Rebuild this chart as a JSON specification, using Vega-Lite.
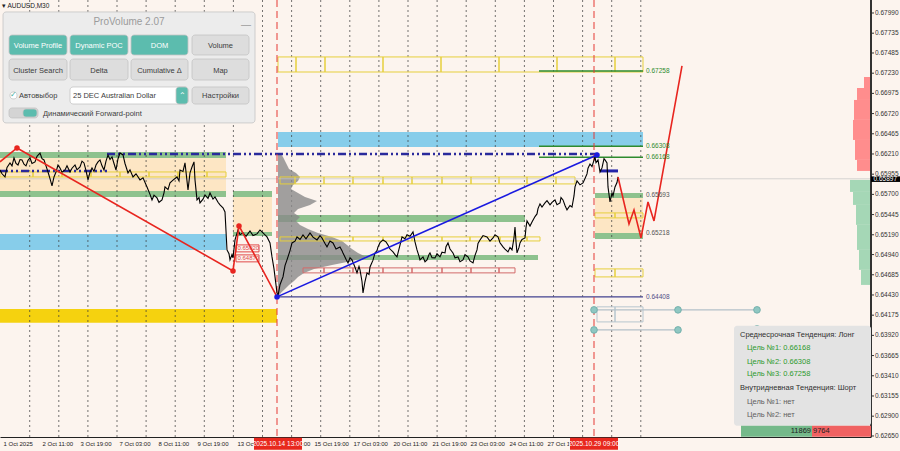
{
"$schema": "https://vega.github.io/schema/vega-lite/v6.json",
"width": 871, "height": 437, "autosize": {"type": "none"}, "padding": {"left": 0, "top": 0, "right": 29, "bottom": 14},
"background": "#fcf4ee",
"config": {"view": {"stroke": null}, "font": "Liberation Sans", "axis": {"labelOverlap": false, "labelBound": false, "labelFlush": false}},
"resolve": {"scale": {"fill": "independent", "stroke": "independent", "color": "independent"}},
"datasets": {
"yt": [{"p":0.6799},{"p":0.67735},{"p":0.67485},{"p":0.6723},{"p":0.66975},{"p":0.6672},{"p":0.66465},{"p":0.6621},{"p":0.65955},{"p":0.657},{"p":0.65445},{"p":0.6519},{"p":0.6494},{"p":0.64685},{"p":0.6443},{"p":0.64175},{"p":0.6392},{"p":0.63665},{"p":0.6341},{"p":0.63155},{"p":0.629},{"p":0.6265}],
"zones": [
{"x":0,"x2":226,"p":0.66236,"p2":0.66160,"k":"green"},
{"x":0,"x2":226,"p":0.66160,"p2":0.65744,"k":"tan"},
{"x":0,"x2":226,"p":0.65744,"p2":0.65668,"k":"green"},
{"x":233,"x2":272,"p":0.65744,"p2":0.65668,"k":"green"},
{"x":0,"x2":226,"p":0.65201,"p2":0.64999,"k":"sky"},
{"x":0,"x2":277,"p":0.64254,"p2":0.64078,"k":"gold"},
{"x":233,"x2":272,"p":0.65668,"p2":0.65226,"k":"tan"},
{"x":233,"x2":272,"p":0.65226,"p2":0.65176,"k":"green"},
{"x":278,"x2":643,"p":0.66488,"p2":0.66299,"k":"sky"},
{"x":278,"x2":525,"p":0.65441,"p2":0.65352,"k":"green"},
{"x":278,"x2":538,"p":0.64936,"p2":0.64873,"k":"green"},
{"x":595,"x2":643,"p":0.65718,"p2":0.65655,"k":"green"},
{"x":595,"x2":643,"p":0.65655,"p2":0.65214,"k":"tan"},
{"x":595,"x2":643,"p":0.65214,"p2":0.65138,"k":"green"}
],
"grid": [{"x":29.7},{"x":58.8},{"x":87.9},{"x":117},{"x":146.1},{"x":175.2},{"x":204.3},{"x":233.4},{"x":262.5},{"x":291.6},{"x":320.7},{"x":349.8},{"x":378.9},{"x":408},{"x":437.1},{"x":466.2},{"x":495.3},{"x":524.4},{"x":553.5},{"x":582.6},{"x":611.7},{"x":640.8}],
"vmarks": [{"x":277},{"x":594}],
"profile": [
{"p":0.66223,"v":280},{"p":0.66173,"v":283},{"p":0.66122,"v":285},{"p":0.66071,"v":287},{"p":0.66021,"v":289},{"p":0.65971,"v":296},{"p":0.65920,"v":300},{"p":0.65870,"v":298},{"p":0.65820,"v":293},{"p":0.65769,"v":291},{"p":0.65718,"v":298},{"p":0.65668,"v":305},{"p":0.65617,"v":317},{"p":0.65567,"v":310},{"p":0.65516,"v":298},{"p":0.65466,"v":294},{"p":0.65415,"v":300},{"p":0.65365,"v":296},{"p":0.65315,"v":300},{"p":0.65264,"v":308},{"p":0.65214,"v":318},{"p":0.65163,"v":332},{"p":0.65112,"v":342},{"p":0.65062,"v":347},{"p":0.65012,"v":352},{"p":0.64961,"v":358},{"p":0.64911,"v":366},{"p":0.64860,"v":352},{"p":0.64810,"v":332},{"p":0.64759,"v":314},{"p":0.64709,"v":304},{"p":0.64658,"v":298},{"p":0.64608,"v":294},{"p":0.64557,"v":289},{"p":0.64507,"v":285},{"p":0.64457,"v":281},{"p":0.64406,"v":278}
],
"boxes": [
{"x":0,"x2":33,"p":0.65983,"p2":0.65920,"k":"y"},{"x":33,"x2":62,"p":0.65983,"p2":0.65920,"k":"y"},{"x":62,"x2":91,"p":0.65983,"p2":0.65920,"k":"y"},{"x":91,"x2":120,"p":0.65983,"p2":0.65920,"k":"y"},{"x":120,"x2":149,"p":0.65983,"p2":0.65920,"k":"y"},{"x":149,"x2":178,"p":0.65983,"p2":0.65920,"k":"y"},{"x":178,"x2":207,"p":0.65983,"p2":0.65920,"k":"y"},{"x":207,"x2":226,"p":0.65983,"p2":0.65920,"k":"y"},
{"x":278,"x2":296,"p":0.67435,"p2":0.67245,"k":"y"},{"x":296,"x2":325,"p":0.67435,"p2":0.67245,"k":"y"},{"x":325,"x2":383,"p":0.67435,"p2":0.67245,"k":"y"},{"x":383,"x2":441,"p":0.67435,"p2":0.67245,"k":"y"},{"x":441,"x2":499,"p":0.67435,"p2":0.67245,"k":"y"},{"x":499,"x2":557,"p":0.67435,"p2":0.67245,"k":"y"},{"x":557,"x2":615,"p":0.67435,"p2":0.67245,"k":"y"},{"x":615,"x2":643,"p":0.67435,"p2":0.67245,"k":"y"},
{"x":280,"x2":295,"p":0.65920,"p2":0.65832,"k":"y"},{"x":295,"x2":324,"p":0.65920,"p2":0.65832,"k":"y"},{"x":324,"x2":353,"p":0.65920,"p2":0.65832,"k":"y"},{"x":353,"x2":383,"p":0.65920,"p2":0.65832,"k":"y"},{"x":383,"x2":412,"p":0.65920,"p2":0.65832,"k":"y"},{"x":412,"x2":442,"p":0.65920,"p2":0.65832,"k":"y"},{"x":442,"x2":471,"p":0.65920,"p2":0.65832,"k":"y"},{"x":471,"x2":499,"p":0.65920,"p2":0.65832,"k":"y"},{"x":499,"x2":527,"p":0.65920,"p2":0.65832,"k":"y"},{"x":527,"x2":556,"p":0.65920,"p2":0.65832,"k":"y"},{"x":556,"x2":575,"p":0.65920,"p2":0.65832,"k":"y"},
{"x":280,"x2":324,"p":0.65163,"p2":0.65112,"k":"y"},{"x":324,"x2":353,"p":0.65163,"p2":0.65112,"k":"y"},{"x":353,"x2":383,"p":0.65163,"p2":0.65112,"k":"y"},{"x":383,"x2":412,"p":0.65163,"p2":0.65112,"k":"y"},{"x":412,"x2":442,"p":0.65163,"p2":0.65112,"k":"y"},{"x":442,"x2":470,"p":0.65163,"p2":0.65112,"k":"y"},{"x":470,"x2":500,"p":0.65163,"p2":0.65112,"k":"y"},{"x":500,"x2":527,"p":0.65163,"p2":0.65112,"k":"y"},{"x":527,"x2":540,"p":0.65163,"p2":0.65112,"k":"y"},
{"x":595,"x2":615,"p":0.65466,"p2":0.65403,"k":"y"},{"x":615,"x2":643,"p":0.65466,"p2":0.65403,"k":"y"},
{"x":595,"x2":615,"p":0.64759,"p2":0.64658,"k":"y"},{"x":615,"x2":643,"p":0.64759,"p2":0.64658,"k":"y"},
{"x":303,"x2":324,"p":0.64772,"p2":0.64709,"k":"r"},{"x":324,"x2":353,"p":0.64772,"p2":0.64709,"k":"r"},{"x":353,"x2":383,"p":0.64772,"p2":0.64709,"k":"r"},{"x":383,"x2":412,"p":0.64772,"p2":0.64709,"k":"r"},{"x":412,"x2":442,"p":0.64772,"p2":0.64709,"k":"r"},{"x":442,"x2":471,"p":0.64772,"p2":0.64709,"k":"r"},{"x":471,"x2":499,"p":0.64772,"p2":0.64709,"k":"r"},{"x":499,"x2":515,"p":0.64772,"p2":0.64709,"k":"r"},
{"x":597,"x2":615,"p":0.64280,"p2":0.64090,"k":"g"},{"x":615,"x2":643,"p":0.64280,"p2":0.64090,"k":"g"},
{"x":236,"x2":259,"p":0.65062,"p2":0.64974,"k":"rl"},{"x":236,"x2":259,"p":0.64936,"p2":0.64848,"k":"rl"}
],
"lv": [
{"x":539,"x2":643,"p":0.67258,"k":"green"},{"x":539,"x2":643,"p":0.66308,"k":"green"},{"x":539,"x2":643,"p":0.66168,"k":"green"},
{"x":277,"x2":643,"p":0.64406,"k":"navy"},
{"x":594,"x2":757,"p":0.64242,"k":"conn"},{"x":594,"x2":678,"p":0.63989,"k":"conn"}
],
"cur": [{"x":0,"x2":871,"p":0.65897}],
"dashdot": [{"x":0,"x2":107,"p":0.65996},{"x":107,"x2":600,"p":0.66211}],
"navyshort": [{"x":600,"x2":618,"p":0.65996}],
"price": [
{"x":0,"p":0.66008},{"x":2,"p":0.65960},{"x":5,"p":0.65920},{"x":7,"p":0.66040},{"x":10,"p":0.66097},{"x":12,"p":0.66060},{"x":14,"p":0.66160},{"x":16,"p":0.66090},{"x":18,"p":0.66071},{"x":20,"p":0.66140},{"x":22,"p":0.66135},{"x":24,"p":0.66080},{"x":26,"p":0.66059},{"x":28,"p":0.66130},{"x":30,"p":0.66160},{"x":32,"p":0.66090},{"x":35,"p":0.66110},{"x":37,"p":0.66180},{"x":40,"p":0.66223},{"x":42,"p":0.66150},{"x":44,"p":0.66135},{"x":46,"p":0.66060},{"x":48,"p":0.65983},{"x":50,"p":0.65900},{"x":52,"p":0.65807},{"x":54,"p":0.65920},{"x":56,"p":0.65983},{"x":58,"p":0.66070},{"x":60,"p":0.66034},{"x":62,"p":0.65980},{"x":65,"p":0.66008},{"x":67,"p":0.66060},{"x":70,"p":0.65983},{"x":72,"p":0.66030},{"x":75,"p":0.66071},{"x":77,"p":0.66010},{"x":80,"p":0.66046},{"x":82,"p":0.66120},{"x":84,"p":0.66097},{"x":86,"p":0.66000},{"x":88,"p":0.65883},{"x":90,"p":0.65980},{"x":92,"p":0.66034},{"x":94,"p":0.65990},{"x":96,"p":0.66071},{"x":98,"p":0.66110},{"x":100,"p":0.66135},{"x":102,"p":0.66060},{"x":104,"p":0.66008},{"x":106,"p":0.66120},{"x":108,"p":0.66198},{"x":110,"p":0.66140},{"x":112,"p":0.66173},{"x":114,"p":0.66090},{"x":116,"p":0.66008},{"x":118,"p":0.66150},{"x":120,"p":0.66223},{"x":123,"p":0.66198},{"x":125,"p":0.66090},{"x":128,"p":0.65971},{"x":130,"p":0.66010},{"x":133,"p":0.65920},{"x":136,"p":0.65960},{"x":140,"p":0.65883},{"x":143,"p":0.65910},{"x":147,"p":0.65794},{"x":150,"p":0.65700},{"x":152,"p":0.65630},{"x":154,"p":0.65690},{"x":157,"p":0.65655},{"x":159,"p":0.65600},{"x":162,"p":0.65630},{"x":164,"p":0.65720},{"x":165,"p":0.65794},{"x":168,"p":0.65760},{"x":170,"p":0.65845},{"x":173,"p":0.65880},{"x":177,"p":0.65920},{"x":179,"p":0.65870},{"x":180,"p":0.66008},{"x":183,"p":0.65990},{"x":185,"p":0.66097},{"x":188,"p":0.65756},{"x":190,"p":0.65971},{"x":192,"p":0.66046},{"x":194,"p":0.66110},{"x":195,"p":0.65883},{"x":197,"p":0.65630},{"x":199,"p":0.65660},{"x":200,"p":0.65592},{"x":203,"p":0.65640},{"x":205,"p":0.65693},{"x":208,"p":0.65650},{"x":210,"p":0.65718},{"x":213,"p":0.65640},{"x":215,"p":0.65668},{"x":218,"p":0.65600},{"x":220,"p":0.65567},{"x":223,"p":0.65530},{"x":225,"p":0.65478},{"x":227,"p":0.64999},{"x":229,"p":0.64950},{"x":230,"p":0.64873},{"x":232,"p":0.64940},{"x":233,"p":0.64898},{"x":235,"p":0.65125},{"x":238,"p":0.65252},{"x":240,"p":0.65190},{"x":243,"p":0.65214},{"x":246,"p":0.65170},{"x":250,"p":0.65239},{"x":253,"p":0.65180},{"x":257,"p":0.65201},{"x":260,"p":0.65250},{"x":262,"p":0.65226},{"x":265,"p":0.65190},{"x":267,"p":0.65163},{"x":270,"p":0.65087},{"x":272,"p":0.64911},{"x":274,"p":0.64760},{"x":275,"p":0.64658},{"x":277,"p":0.64457},{"x":278,"p":0.64419},{"x":280,"p":0.64560},{"x":283,"p":0.64658},{"x":285,"p":0.64800},{"x":287,"p":0.64873},{"x":290,"p":0.64990},{"x":292,"p":0.65087},{"x":295,"p":0.65110},{"x":297,"p":0.65163},{"x":300,"p":0.65130},{"x":303,"p":0.65189},{"x":306,"p":0.65140},{"x":310,"p":0.65214},{"x":313,"p":0.65160},{"x":317,"p":0.65125},{"x":320,"p":0.65180},{"x":322,"p":0.65150},{"x":325,"p":0.65080},{"x":327,"p":0.65037},{"x":330,"p":0.65110},{"x":333,"p":0.65087},{"x":336,"p":0.65010},{"x":340,"p":0.65037},{"x":342,"p":0.64990},{"x":343,"p":0.64961},{"x":346,"p":0.64880},{"x":348,"p":0.64835},{"x":350,"p":0.64900},{"x":352,"p":0.64873},{"x":355,"p":0.64780},{"x":357,"p":0.64709},{"x":359,"p":0.64790},{"x":360,"p":0.64747},{"x":362,"p":0.64600},{"x":363,"p":0.64457},{"x":365,"p":0.64600},{"x":367,"p":0.64709},{"x":369,"p":0.64690},{"x":370,"p":0.64784},{"x":373,"p":0.64870},{"x":375,"p":0.64961},{"x":377,"p":0.64990},{"x":378,"p":0.65037},{"x":380,"p":0.65090},{"x":383,"p":0.65125},{"x":386,"p":0.65100},{"x":388,"p":0.65062},{"x":390,"p":0.65010},{"x":393,"p":0.64974},{"x":395,"p":0.64940},{"x":397,"p":0.64911},{"x":400,"p":0.65060},{"x":402,"p":0.65163},{"x":405,"p":0.65140},{"x":407,"p":0.65189},{"x":410,"p":0.65170},{"x":413,"p":0.65226},{"x":415,"p":0.65100},{"x":417,"p":0.64999},{"x":419,"p":0.64920},{"x":420,"p":0.64873},{"x":423,"p":0.64911},{"x":425,"p":0.64850},{"x":427,"p":0.64873},{"x":429,"p":0.64940},{"x":430,"p":0.64961},{"x":432,"p":0.64900},{"x":435,"p":0.64898},{"x":437,"p":0.64950},{"x":440,"p":0.64911},{"x":442,"p":0.64970},{"x":445,"p":0.64961},{"x":446,"p":0.65040},{"x":448,"p":0.65087},{"x":450,"p":0.65010},{"x":453,"p":0.64961},{"x":455,"p":0.64900},{"x":458,"p":0.64911},{"x":460,"p":0.64850},{"x":463,"p":0.64873},{"x":465,"p":0.64940},{"x":468,"p":0.64911},{"x":470,"p":0.64860},{"x":473,"p":0.64835},{"x":475,"p":0.64930},{"x":477,"p":0.64999},{"x":478,"p":0.65080},{"x":480,"p":0.65125},{"x":483,"p":0.65180},{"x":487,"p":0.65163},{"x":490,"p":0.65110},{"x":493,"p":0.65150},{"x":495,"p":0.65190},{"x":498,"p":0.65163},{"x":500,"p":0.65090},{"x":503,"p":0.65037},{"x":505,"p":0.65010},{"x":508,"p":0.64974},{"x":510,"p":0.65030},{"x":512,"p":0.64999},{"x":514,"p":0.65150},{"x":515,"p":0.65289},{"x":516,"p":0.65100},{"x":517,"p":0.64961},{"x":519,"p":0.65030},{"x":520,"p":0.65087},{"x":522,"p":0.65130},{"x":525,"p":0.65150},{"x":526,"p":0.65280},{"x":527,"p":0.65365},{"x":530,"p":0.65300},{"x":532,"p":0.65352},{"x":535,"p":0.65420},{"x":537,"p":0.65453},{"x":538,"p":0.65520},{"x":540,"p":0.65580},{"x":542,"p":0.65540},{"x":545,"p":0.65592},{"x":547,"p":0.65620},{"x":550,"p":0.65567},{"x":552,"p":0.65600},{"x":555,"p":0.65630},{"x":557,"p":0.65570},{"x":560,"p":0.65592},{"x":561,"p":0.65660},{"x":563,"p":0.65630},{"x":565,"p":0.65560},{"x":567,"p":0.65504},{"x":570,"p":0.65560},{"x":572,"p":0.65541},{"x":574,"p":0.65680},{"x":575,"p":0.65794},{"x":577,"p":0.65870},{"x":580,"p":0.65820},{"x":583,"p":0.65845},{"x":585,"p":0.65900},{"x":587,"p":0.65958},{"x":588,"p":0.66030},{"x":590,"p":0.66084},{"x":592,"p":0.66050},{"x":595,"p":0.66173},{"x":596,"p":0.66100},{"x":598,"p":0.66135},{"x":599,"p":0.66060},{"x":600,"p":0.65983},{"x":602,"p":0.66034},{"x":604,"p":0.66150},{"x":605,"p":0.66135},{"x":607,"p":0.66097},{"x":608,"p":0.65794},{"x":609,"p":0.65700},{"x":610,"p":0.65605},{"x":612,"p":0.65718},{"x":613,"p":0.65680},{"x":615,"p":0.65794},{"x":617,"p":0.65850},{"x":618,"p":0.65920}
],
"zig": [{"x":0,"p":0.66110},{"x":17,"p":0.66286},{"x":233,"p":0.64734},{"x":239,"p":0.65302},{"x":277,"p":0.64406}],
"blue": [{"x":277,"p":0.64406},{"x":597,"p":0.66198}],
"fc": [{"x":618,"p":0.65920},{"x":629,"p":0.65327},{"x":634,"p":0.65504},{"x":641,"p":0.65150},{"x":648,"p":0.65605},{"x":654,"p":0.65365},{"x":682,"p":0.67321}],
"dots": [{"x":17,"p":0.66286,"k":"r"},{"x":233,"p":0.64734,"k":"r"},{"x":239,"p":0.65302,"k":"r"},{"x":277,"p":0.64406,"k":"b"},{"x":597,"p":0.66198,"k":"b"}],
"teal": [{"x":594,"p":0.64242},{"x":594,"p":0.63989},{"x":678,"p":0.64242},{"x":678,"p":0.63989},{"x":757,"p":0.64242},{"x":757,"p":0.64002}],
"dom": [
{"x":864,"x2":871,"p":0.67182,"p2":0.67043,"k":"r"},{"x":857,"x2":871,"p":0.67043,"p2":0.66892,"k":"r"},{"x":854,"x2":871,"p":0.66892,"p2":0.66640,"k":"r"},{"x":853,"x2":871,"p":0.66640,"p2":0.66387,"k":"r"},{"x":855,"x2":871,"p":0.66387,"p2":0.66135,"k":"r"},{"x":857,"x2":871,"p":0.66135,"p2":0.65996,"k":"r"},
{"x":850,"x2":871,"p":0.65883,"p2":0.65731,"k":"g"},{"x":853,"x2":871,"p":0.65731,"p2":0.65567,"k":"g"},{"x":856,"x2":871,"p":0.65567,"p2":0.65315,"k":"g"},{"x":857,"x2":871,"p":0.65315,"p2":0.64999,"k":"g"},{"x":859,"x2":871,"p":0.64999,"p2":0.64747,"k":"g"},{"x":861,"x2":871,"p":0.64747,"p2":0.64557,"k":"g"}
],
"lvltxt": [
{"x":646,"p":0.67258,"label":"0.67258","k":"g"},{"x":646,"p":0.66308,"label":"0.66308","k":"g"},{"x":646,"p":0.66168,"label":"0.66168","k":"g"},{"x":646,"p":0.65693,"label":"0.65693","k":"d"},{"x":646,"p":0.65218,"label":"0.65218","k":"d"},{"x":646,"p":0.64408,"label":"0.64408","k":"b"}
],
"redlab": [{"x":237.5,"p":0.65018,"label":"0.65020"},{"x":237.5,"p":0.64892,"label":"0.64870"}],
"infobox": [{"x":734,"x2":871,"p":0.64040,"p2":0.62778}],
"bars": [{"x":741,"x2":812,"p":0.62778,"p2":0.62639,"k":"g"},{"x":812,"x2":871,"p":0.62778,"p2":0.62639,"k":"r"}],
"infotxt": [
{"x":740,"p":0.63926,"label":"Среднесрочная Тенденция: Лонг","k":"h"},
{"x":747,"p":0.63762,"label":"Цель №1: 0.66168","k":"g"},
{"x":747,"p":0.63586,"label":"Цель №2: 0.66308","k":"g"},
{"x":747,"p":0.63434,"label":"Цель №3: 0.67258","k":"g"},
{"x":740,"p":0.63257,"label":"Внутридневная Тенденция: Шорт","k":"h"},
{"x":747,"p":0.63081,"label":"Цель №1: нет","k":"n"},
{"x":747,"p":0.62917,"label":"Цель №2: нет","k":"n"}
],
"barnum": [{"x":811,"p":0.62710,"label":"11869","a":"r"},{"x":813,"p":0.62710,"label":"9764","a":"l"}],
"pricebox": [{"x":871,"x2":900,"p":0.65927,"p2":0.65857}],
"pricetxt": [{"x":873.5,"p":0.65892,"label":"0.65897"}],
"axbox": [{"x":254,"x2":302,"p":0.62626,"p2":0.62475},{"x":570,"x2":618,"p":0.62626,"p2":0.62475}],
"axtxt": [{"x":278,"p":0.62551,"label":"2025.10.14 13:00"},{"x":594,"p":0.62551,"label":"2025.10.29 09:00"}],
"ui": [
{"x":3,"x2":255,"p":0.68003,"p2":0.66602,"k":"panel"},
{"x":9,"x2":67,"p":0.67712,"p2":0.67460,"k":"teal"},
{"x":70,"x2":128,"p":0.67712,"p2":0.67460,"k":"teal"},
{"x":131,"x2":188,"p":0.67712,"p2":0.67460,"k":"teal"},
{"x":192,"x2":249,"p":0.67712,"p2":0.67460,"k":"light"},
{"x":9,"x2":67,"p":0.67409,"p2":0.67144,"k":"light"},
{"x":70,"x2":128,"p":0.67409,"p2":0.67144,"k":"light"},
{"x":131,"x2":188,"p":0.67409,"p2":0.67144,"k":"light"},
{"x":192,"x2":249,"p":0.67409,"p2":0.67144,"k":"light"},
{"x":70,"x2":188,"p":0.67056,"p2":0.66841,"k":"white"},
{"x":176,"x2":188,"p":0.67056,"p2":0.66841,"k":"teal"},
{"x":192,"x2":249,"p":0.67056,"p2":0.66841,"k":"light"},
{"x":10,"x2":17,"p":0.66993,"p2":0.66905,"k":"white"},
{"x":9,"x2":38,"p":0.66791,"p2":0.66665,"k":"tog"},
{"x":23,"x2":37,"p":0.66778,"p2":0.66677,"k":"teal"}
],
"uititle": [{"x":129,"p":0.67876,"label":"ProVolume 2.07"},{"x":246,"p":0.67839,"label":"—"}],
"uictr": [
{"x":38,"p":0.67574,"label":"Volume Profile","k":"w"},
{"x":99,"p":0.67574,"label":"Dynamic POC","k":"w"},
{"x":159.5,"p":0.67574,"label":"DOM","k":"w"},
{"x":220.5,"p":0.67574,"label":"Volume","k":"d"},
{"x":38,"p":0.67258,"label":"Cluster Search","k":"d"},
{"x":99,"p":0.67258,"label":"Delta","k":"d"},
{"x":159.5,"p":0.67258,"label":"Cumulative Δ","k":"d"},
{"x":220.5,"p":0.67258,"label":"Map","k":"d"},
{"x":220.5,"p":0.66943,"label":"Настройки","k":"d"},
{"x":13.5,"p":0.66955,"label":"✓","k":"c"},
{"x":182,"p":0.66943,"label":"⌃","k":"w"}
],
"uileft": [
{"x":19,"p":0.66943,"label":"Автовыбор"},
{"x":73,"p":0.66943,"label":"25 DEC Australian Dollar"},
{"x":43,"p":0.66715,"label":"Динамический Forward-point"}
],
"sym": [{"x":2,"p":0.68072,"label":"▾ AUDUSD,M30"}]
},
"layer": [
{"data":{"name":"zones"},"mark":{"type":"rect"},
 "encoding":{
  "x":{"field":"x","type":"quantitative","scale":{"domain":[0,871],"nice":false,"zero":false},
   "axis":{"values":[3,42,80,119,158,197,237,276,314,353,393,432,470,509,547],
    "labelExpr":"['1 Oct 2025','2 Oct 11:00','3 Oct 19:00','7 Oct 03:00','8 Oct 11:00','9 Oct 19:00','13 Oct 03:00','14 Oct 11:00','15 Oct 19:00','17 Oct 03:00','20 Oct 11:00','21 Oct 19:00','23 Oct 03:00','24 Oct 11:00','27 Oct 11:00'][indexof([3,42,80,119,158,197,237,276,314,353,393,432,470,509,547], datum.value)]",
    "labelAlign":"left","ticks":false,"labelPadding":3,"labelFontSize":6,"labelFont":"Liberation Sans","labelColor":"#222","domainColor":"#222","domainWidth":1,"title":null,"grid":false,"labelOverlap":false,"labelFlush":false,"labelBound":false}},
  "x2":{"field":"x2"},
  "y":{"field":"p","type":"quantitative","scale":{"domain":[0.62637,0.68154],"nice":false,"zero":false},"axis":null},
  "y2":{"field":"p2"},
  "fill":{"field":"k","type":"nominal","legend":null,"scale":{"domain":["green","tan","sky","gold"],"range":["#8ec28e","#fde6c4","#87cdea","#f5d20f"]}}
 }},
{"data":{"name":"grid"},"mark":{"type":"rule","stroke":"#3a3a3a","strokeDash":[2,3],"strokeWidth":0.7},
 "encoding":{"x":{"field":"x","type":"quantitative","scale":{"domain":[0,871],"nice":false,"zero":false}}}},
{"data":{"name":"profile"},"mark":{"type":"area","orient":"horizontal","color":"#8a8a8a","opacity":0.8},
 "encoding":{
  "y":{"field":"p","type":"quantitative","scale":{"domain":[0.62637,0.68154],"nice":false,"zero":false},"axis":null},
  "x":{"field":"v","type":"quantitative","scale":{"domain":[0,871],"nice":false,"zero":false}},
  "x2":{"datum":278}}},
{"data":{"name":"boxes"},"mark":{"type":"rect","fill":"#ffffff","fillOpacity":0,"strokeWidth":1},
 "encoding":{
  "x":{"field":"x","type":"quantitative","scale":{"domain":[0,871],"nice":false,"zero":false}},"x2":{"field":"x2"},
  "y":{"field":"p","type":"quantitative","scale":{"domain":[0.62637,0.68154],"nice":false,"zero":false},"axis":null},"y2":{"field":"p2"},
  "stroke":{"field":"k","type":"nominal","legend":null,"scale":{"domain":["y","r","g","rl"],"range":["#e6cf3c","#d36b6b","#b6c6cf","#e04848"]}}}},
{"data":{"name":"cur"},"mark":{"type":"rule","stroke":"#c4c4c4","strokeWidth":0.7},
 "encoding":{
  "x":{"field":"x","type":"quantitative","scale":{"domain":[0,871],"nice":false,"zero":false}},"x2":{"field":"x2"},
  "y":{"field":"p","type":"quantitative","scale":{"domain":[0.62637,0.68154],"nice":false,"zero":false},"axis":null}}},
{"data":{"name":"lv"},"mark":{"type":"rule","strokeWidth":1.4},
 "encoding":{
  "x":{"field":"x","type":"quantitative","scale":{"domain":[0,871],"nice":false,"zero":false}},"x2":{"field":"x2"},
  "y":{"field":"p","type":"quantitative","scale":{"domain":[0.62637,0.68154],"nice":false,"zero":false},"axis":null},
  "stroke":{"field":"k","type":"nominal","legend":null,"scale":{"domain":["green","navy","conn"],"range":["#2e8b2e","#42428f","#b3c0c8"]}}}},
{"data":{"name":"dashdot"},"mark":{"type":"rule","stroke":"#2a2a9c","strokeWidth":2.5,"strokeDash":[8,3,2,3,2,3]},
 "encoding":{
  "x":{"field":"x","type":"quantitative","scale":{"domain":[0,871],"nice":false,"zero":false}},"x2":{"field":"x2"},
  "y":{"field":"p","type":"quantitative","scale":{"domain":[0.62637,0.68154],"nice":false,"zero":false},"axis":null}}},
{"data":{"name":"navyshort"},"mark":{"type":"rule","stroke":"#2424a8","strokeWidth":3},
 "encoding":{
  "x":{"field":"x","type":"quantitative","scale":{"domain":[0,871],"nice":false,"zero":false}},"x2":{"field":"x2"},
  "y":{"field":"p","type":"quantitative","scale":{"domain":[0.62637,0.68154],"nice":false,"zero":false},"axis":null}}},
{"data":{"name":"vmarks"},"mark":{"type":"rule","stroke":"#e53935","strokeDash":[7,4],"strokeWidth":1},
 "encoding":{"x":{"field":"x","type":"quantitative","scale":{"domain":[0,871],"nice":false,"zero":false}}}},
{"data":{"name":"price"},"mark":{"type":"line","color":"#000000","strokeWidth":1.1},
 "encoding":{
  "x":{"field":"x","type":"quantitative","scale":{"domain":[0,871],"nice":false,"zero":false}},
  "y":{"field":"p","type":"quantitative","scale":{"domain":[0.62637,0.68154],"nice":false,"zero":false},"axis":null}}},
{"data":{"name":"zig"},"mark":{"type":"line","color":"#e8251f","strokeWidth":1.6},
 "encoding":{
  "x":{"field":"x","type":"quantitative","scale":{"domain":[0,871],"nice":false,"zero":false}},
  "y":{"field":"p","type":"quantitative","scale":{"domain":[0.62637,0.68154],"nice":false,"zero":false},"axis":null}}},
{"data":{"name":"blue"},"mark":{"type":"line","color":"#1a1ae0","strokeWidth":1.6},
 "encoding":{
  "x":{"field":"x","type":"quantitative","scale":{"domain":[0,871],"nice":false,"zero":false}},
  "y":{"field":"p","type":"quantitative","scale":{"domain":[0.62637,0.68154],"nice":false,"zero":false},"axis":null}}},
{"data":{"name":"fc"},"mark":{"type":"line","color":"#e8251f","strokeWidth":1.6},
 "encoding":{
  "x":{"field":"x","type":"quantitative","scale":{"domain":[0,871],"nice":false,"zero":false}},
  "y":{"field":"p","type":"quantitative","scale":{"domain":[0.62637,0.68154],"nice":false,"zero":false},"axis":null}}},
{"data":{"name":"dots"},"mark":{"type":"point","filled":true,"size":30,"opacity":1},
 "encoding":{
  "x":{"field":"x","type":"quantitative","scale":{"domain":[0,871],"nice":false,"zero":false}},
  "y":{"field":"p","type":"quantitative","scale":{"domain":[0.62637,0.68154],"nice":false,"zero":false},"axis":null},
  "fill":{"field":"k","type":"nominal","legend":null,"scale":{"domain":["r","b"],"range":["#e8251f","#1a1ae0"]}}}},
{"data":{"name":"dom"},"mark":{"type":"rect"},
 "encoding":{
  "x":{"field":"x","type":"quantitative","scale":{"domain":[0,871],"nice":false,"zero":false}},"x2":{"field":"x2"},
  "y":{"field":"p","type":"quantitative","scale":{"domain":[0.62637,0.68154],"nice":false,"zero":false},"axis":null},"y2":{"field":"p2"},
  "fill":{"field":"k","type":"nominal","legend":null,"scale":{"domain":["r","g"],"range":["#ff8d8d","#a5d7b6"]}}}},
{"data":{"name":"yt"},"mark":{"type":"rule","stroke":"#333333","strokeWidth":1},
 "encoding":{
  "x":{"datum":871,"type":"quantitative","scale":{"domain":[0,871],"nice":false,"zero":false}},"x2":{"datum":874},
  "y":{"field":"p","type":"quantitative","scale":{"domain":[0.62637,0.68154],"nice":false,"zero":false},"axis":null}}},
{"data":{"name":"yt"},"mark":{"type":"rule","stroke":"#333333","strokeWidth":1},
 "encoding":{
  "x":{"datum":871,"type":"quantitative","scale":{"domain":[0,871],"nice":false,"zero":false}}}},
{"data":{"name":"yt"},"mark":{"type":"text","align":"left","baseline":"middle","fontSize":6.5,"font":"Liberation Sans","color":"#333333"},
 "encoding":{
  "x":{"datum":875,"type":"quantitative","scale":{"domain":[0,871],"nice":false,"zero":false}},
  "y":{"field":"p","type":"quantitative","scale":{"domain":[0.62637,0.68154],"nice":false,"zero":false},"axis":null},
  "text":{"field":"p","type":"quantitative","format":".5f"}}},
{"data":{"name":"lvltxt"},"mark":{"type":"text","align":"left","baseline":"middle","fontSize":6.5,"font":"Liberation Sans"},
 "encoding":{
  "x":{"field":"x","type":"quantitative","scale":{"domain":[0,871],"nice":false,"zero":false}},
  "y":{"field":"p","type":"quantitative","scale":{"domain":[0.62637,0.68154],"nice":false,"zero":false},"axis":null},
  "text":{"field":"label"},
  "color":{"field":"k","type":"nominal","legend":null,"scale":{"domain":["g","d","b"],"range":["#2e8b2e","#555555","#505088"]}}}},
{"data":{"name":"redlab"},"mark":{"type":"text","align":"left","baseline":"middle","fontSize":6,"font":"Liberation Sans","color":"#e04848"},
 "encoding":{
  "x":{"field":"x","type":"quantitative","scale":{"domain":[0,871],"nice":false,"zero":false}},
  "y":{"field":"p","type":"quantitative","scale":{"domain":[0.62637,0.68154],"nice":false,"zero":false},"axis":null},
  "text":{"field":"label"}}},
{"data":{"name":"teal"},"mark":{"type":"point","filled":true,"size":45,"color":"#8fc7c2","stroke":"#6aa9a5","strokeWidth":0.8,"opacity":1},
 "encoding":{
  "x":{"field":"x","type":"quantitative","scale":{"domain":[0,871],"nice":false,"zero":false}},
  "y":{"field":"p","type":"quantitative","scale":{"domain":[0.62637,0.68154],"nice":false,"zero":false},"axis":null}}},
{"data":{"name":"infobox"},"mark":{"type":"rect","fill":"#e3e3e3","cornerRadius":3},
 "encoding":{
  "x":{"field":"x","type":"quantitative","scale":{"domain":[0,871],"nice":false,"zero":false}},"x2":{"field":"x2"},
  "y":{"field":"p","type":"quantitative","scale":{"domain":[0.62637,0.68154],"nice":false,"zero":false},"axis":null},"y2":{"field":"p2"}}},
{"data":{"name":"bars"},"mark":{"type":"rect"},
 "encoding":{
  "x":{"field":"x","type":"quantitative","scale":{"domain":[0,871],"nice":false,"zero":false}},"x2":{"field":"x2"},
  "y":{"field":"p","type":"quantitative","scale":{"domain":[0.62637,0.68154],"nice":false,"zero":false},"axis":null},"y2":{"field":"p2"},
  "fill":{"field":"k","type":"nominal","legend":null,"scale":{"domain":["g","r"],"range":["#74b98a","#f06262"]}}}},
{"data":{"name":"infotxt"},"mark":{"type":"text","align":"left","baseline":"middle","fontSize":7.5,"font":"Liberation Sans"},
 "encoding":{
  "x":{"field":"x","type":"quantitative","scale":{"domain":[0,871],"nice":false,"zero":false}},
  "y":{"field":"p","type":"quantitative","scale":{"domain":[0.62637,0.68154],"nice":false,"zero":false},"axis":null},
  "text":{"field":"label"},
  "color":{"field":"k","type":"nominal","legend":null,"scale":{"domain":["h","g","n"],"range":["#303030","#2e9a2e","#606060"]}}}},
{"data":{"name":"barnum"},"transform":[{"filter":"datum.a=='r'"}],"mark":{"type":"text","align":"right","baseline":"middle","fontSize":7.5,"font":"Liberation Sans","color":"#222"},
 "encoding":{
  "x":{"field":"x","type":"quantitative","scale":{"domain":[0,871],"nice":false,"zero":false}},
  "y":{"field":"p","type":"quantitative","scale":{"domain":[0.62637,0.68154],"nice":false,"zero":false},"axis":null},
  "text":{"field":"label"}}},
{"data":{"name":"barnum"},"transform":[{"filter":"datum.a=='l'"}],"mark":{"type":"text","align":"left","baseline":"middle","fontSize":7.5,"font":"Liberation Sans","color":"#222"},
 "encoding":{
  "x":{"field":"x","type":"quantitative","scale":{"domain":[0,871],"nice":false,"zero":false}},
  "y":{"field":"p","type":"quantitative","scale":{"domain":[0.62637,0.68154],"nice":false,"zero":false},"axis":null},
  "text":{"field":"label"}}},
{"data":{"name":"pricebox"},"mark":{"type":"rect","fill":"#000000"},
 "encoding":{
  "x":{"field":"x","type":"quantitative","scale":{"domain":[0,871],"nice":false,"zero":false}},"x2":{"field":"x2"},
  "y":{"field":"p","type":"quantitative","scale":{"domain":[0.62637,0.68154],"nice":false,"zero":false},"axis":null},"y2":{"field":"p2"}}},
{"data":{"name":"pricetxt"},"mark":{"type":"text","align":"left","baseline":"middle","fontSize":6.5,"font":"Liberation Sans","color":"#ffffff"},
 "encoding":{
  "x":{"field":"x","type":"quantitative","scale":{"domain":[0,871],"nice":false,"zero":false}},
  "y":{"field":"p","type":"quantitative","scale":{"domain":[0.62637,0.68154],"nice":false,"zero":false},"axis":null},
  "text":{"field":"label"}}},
{"data":{"name":"axbox"},"mark":{"type":"rect","fill":"#e8281e"},
 "encoding":{
  "x":{"field":"x","type":"quantitative","scale":{"domain":[0,871],"nice":false,"zero":false}},"x2":{"field":"x2"},
  "y":{"field":"p","type":"quantitative","scale":{"domain":[0.62637,0.68154],"nice":false,"zero":false},"axis":null},"y2":{"field":"p2"}}},
{"data":{"name":"axtxt"},"mark":{"type":"text","align":"center","baseline":"middle","fontSize":6.5,"font":"Liberation Sans","color":"#ffffff"},
 "encoding":{
  "x":{"field":"x","type":"quantitative","scale":{"domain":[0,871],"nice":false,"zero":false}},
  "y":{"field":"p","type":"quantitative","scale":{"domain":[0.62637,0.68154],"nice":false,"zero":false},"axis":null},
  "text":{"field":"label"}}},
{"data":{"name":"ui"},"mark":{"type":"rect","stroke":"#c4c4c4","strokeWidth":0.8,"cornerRadius":3},
 "encoding":{
  "x":{"field":"x","type":"quantitative","scale":{"domain":[0,871],"nice":false,"zero":false}},"x2":{"field":"x2"},
  "y":{"field":"p","type":"quantitative","scale":{"domain":[0.62637,0.68154],"nice":false,"zero":false},"axis":null},"y2":{"field":"p2"},
  "fill":{"field":"k","type":"nominal","legend":null,"scale":{"domain":["panel","teal","light","white","tog"],"range":["#ececec","#5cbcae","#dddddd","#ffffff","#d4d4d4"]}}}},
{"data":{"name":"uititle"},"mark":{"type":"text","align":"center","baseline":"middle","fontSize":10,"font":"Liberation Sans","color":"#9b9b9b"},
 "encoding":{
  "x":{"field":"x","type":"quantitative","scale":{"domain":[0,871],"nice":false,"zero":false}},
  "y":{"field":"p","type":"quantitative","scale":{"domain":[0.62637,0.68154],"nice":false,"zero":false},"axis":null},
  "text":{"field":"label"}}},
{"data":{"name":"uictr"},"mark":{"type":"text","align":"center","baseline":"middle","fontSize":7.5,"font":"Liberation Sans"},
 "encoding":{
  "x":{"field":"x","type":"quantitative","scale":{"domain":[0,871],"nice":false,"zero":false}},
  "y":{"field":"p","type":"quantitative","scale":{"domain":[0.62637,0.68154],"nice":false,"zero":false},"axis":null},
  "text":{"field":"label"},
  "color":{"field":"k","type":"nominal","legend":null,"scale":{"domain":["w","d","c"],"range":["#ffffff","#3c3c3c","#3fae9e"]}}}},
{"data":{"name":"uileft"},"mark":{"type":"text","align":"left","baseline":"middle","fontSize":7.5,"font":"Liberation Sans","color":"#3c3c3c"},
 "encoding":{
  "x":{"field":"x","type":"quantitative","scale":{"domain":[0,871],"nice":false,"zero":false}},
  "y":{"field":"p","type":"quantitative","scale":{"domain":[0.62637,0.68154],"nice":false,"zero":false},"axis":null},
  "text":{"field":"label"}}},
{"data":{"name":"sym"},"mark":{"type":"text","align":"left","baseline":"middle","fontSize":6.5,"font":"Liberation Sans","color":"#222"},
 "encoding":{
  "x":{"field":"x","type":"quantitative","scale":{"domain":[0,871],"nice":false,"zero":false}},
  "y":{"field":"p","type":"quantitative","scale":{"domain":[0.62637,0.68154],"nice":false,"zero":false},"axis":null},
  "text":{"field":"label"}}}
]
}
